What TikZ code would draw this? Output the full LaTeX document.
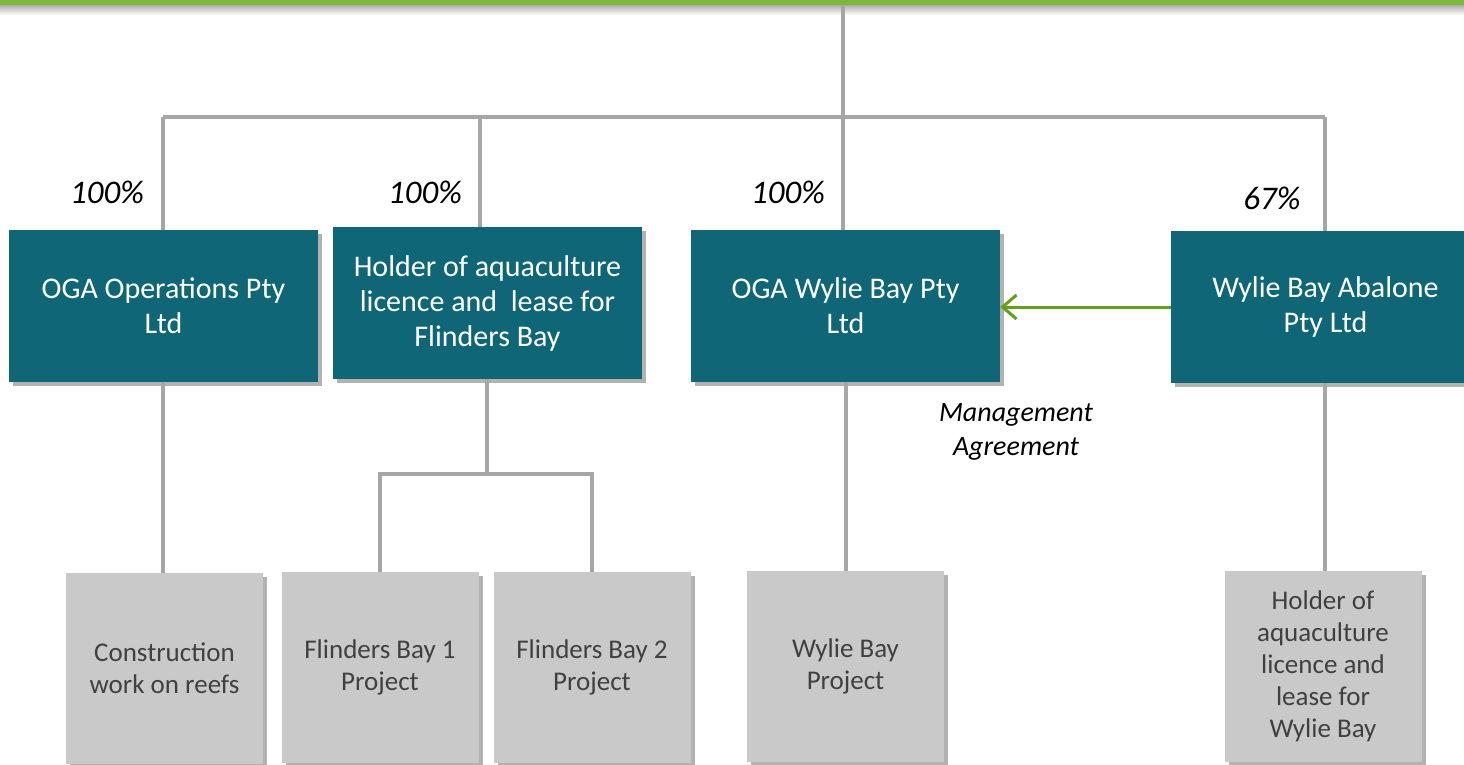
\documentclass[tikz,border=0pt]{standalone}
\usepackage{fontspec}
\setmainfont{Carlito}
\usetikzlibrary{shadows,arrows.meta}
\definecolor{teal1}{HTML}{0F6676}
\definecolor{greybox}{HTML}{C9C9C9}
\definecolor{lineg}{HTML}{A6A6A6}
\definecolor{topgreen}{HTML}{7DB83A}
\definecolor{arrg}{HTML}{62A01A}
\definecolor{txtdark}{HTML}{404040}
\tikzset{
  entity/.style={fill=teal1, text=white, minimum width=309pt, minimum height=152pt,
    align=center, inner sep=0pt, font=\fontsize{30}{35}\selectfont,
    drop shadow={shadow xshift=4pt, shadow yshift=-4pt, opacity=0.3, fill=black}},
  project/.style={fill=greybox, text=txtdark, minimum width=197pt, minimum height=191pt,
    align=center, inner sep=0pt, font=\fontsize{27}{32}\selectfont,
    drop shadow={shadow xshift=4pt, shadow yshift=-4pt, opacity=0.3, fill=black}},
  link/.style={draw=lineg, line width=4pt},
  pct/.style={font=\fontsize{33}{36}\selectfont\itshape, inner sep=0pt},
}
\begin{document}
\begin{tikzpicture}[x=1pt,y=-1pt]
\useasboundingbox (0,0) rectangle (1464,764);
\fill[white] (0,0) rectangle (1464,764);
\shade[top color=black!35, bottom color=white] (0,4) rectangle (1464,15);
\fill[topgreen] (0,0) rectangle (1464,4.5);

% top-level entities
\node[entity] (b1) at (163.5,306) {OGA Operations Pty\\Ltd};
\node[entity] (b2) at (487.5,303) {Holder of aquaculture\\licence and~ lease for\\Flinders Bay};
\node[entity] (b3) at (845.5,306) {OGA Wylie Bay Pty\\Ltd};
\node[entity] (b4) at (1325.5,307) {Wylie Bay Abalone\\Pty Ltd};

% projects
\node[project] (p1) at (164.5,668.5) {Construction\\work on reefs};
\node[project] (p2) at (380,667.5) {Flinders Bay 1\\Project};
\node[project] (p3) at (592,667.5) {Flinders Bay 2\\Project};
\node[project] (p4) at (845.5,666.5) {Wylie Bay\\Project};
\node[project] (p5) at (1323,666.5) {Holder of\\aquaculture\\licence and\\lease for\\Wylie Bay};

% labels
\node[pct] (l1) at (107,192) {100\%};
\node[pct] (l2) at (425,192) {100\%};
\node[pct] (l3) at (788,192) {100\%};
\node[pct] (l4) at (1272,198) {67\%};
\node[font=\fontsize{28}{34}\selectfont\itshape, align=center] (ma) at (1016,432) {Management\\Agreement};

% connectors
\coordinate (top) at (843,4.5);
\coordinate (busL) at (163,117);
\coordinate (busR) at (1325,117);
\coordinate (fork) at (487,474);
\draw[link] (top) -- (top|-busL);
\draw[link] (busL) -- (busR);
\draw[link] (busL) -- (b1.north-|busL);
\draw[link] (480,117) -- (b2.north-|480,0);
\draw[link] (top|-busL) -- (b3.north-|top);
\draw[link] (busR) -- (b4.north-|busR);

\draw[link] (b1.south-|busL) -- (p1.north-|busL);
\draw[link] (b2.south-|fork) -- (fork);
\draw[link] (p2.north) |- (fork) -| (p3.north);
\draw[link] (b3.south) -- (p4.north-|b3.south);
\draw[link] (b4.south-|busR) -- (p5.north-|busR);

\draw[arrg, line width=3pt, -{Straight Barb[length=14pt,width=24pt,line width=3pt]}] (b4.west|-0,307) -- (b3.east|-0,307);
\end{tikzpicture}
\end{document}
